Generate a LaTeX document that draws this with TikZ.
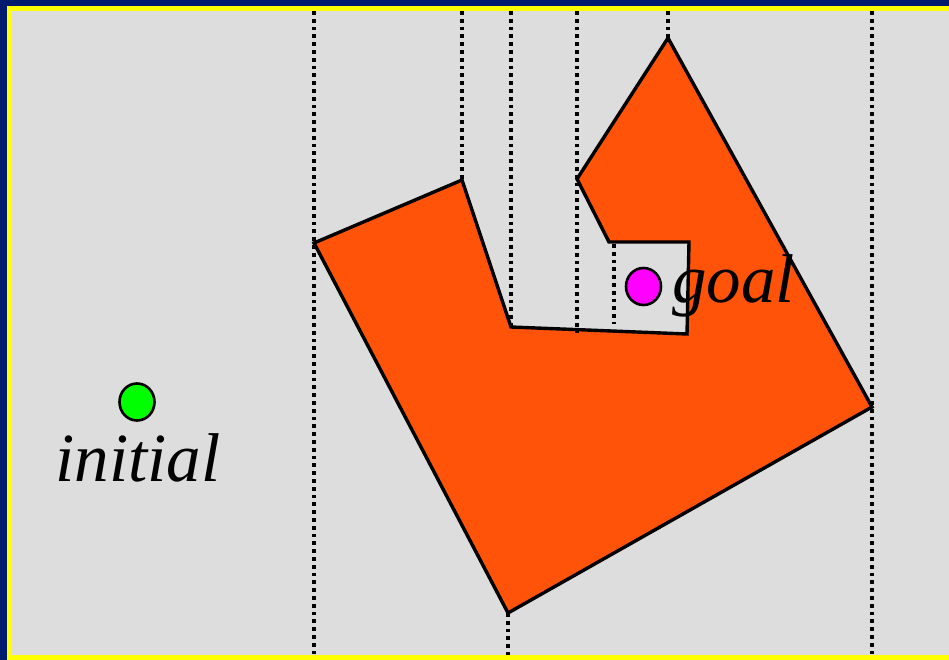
\documentclass[tikz,border=0pt]{standalone}
\usepackage{fontspec}
\setmainfont{Liberation Serif}
\usetikzlibrary{shapes.geometric}
\definecolor{frameblue}{HTML}{001A6E}
\definecolor{frameyellow}{HTML}{FFFF00}
\definecolor{fieldgray}{HTML}{DDDDDD}
\definecolor{obstacle}{HTML}{FF5309}
\definecolor{startgreen}{HTML}{00FF00}
\definecolor{goalpink}{HTML}{FF00FF}

\begin{document}
\begin{tikzpicture}[x=1pt,y=-1pt,every node/.style={font=\fontsize{69}{69}\selectfont\itshape},
  cut/.style={line width=3.6pt,dash pattern=on 3.8pt off 4pt},
  dot/.style={ellipse,draw,line width=2.6pt,minimum width=35pt,minimum height=37pt,inner sep=0pt}]
\useasboundingbox (0,0) rectangle (949,660);
\fill[frameblue] (0,0) rectangle (949,660); \fill[frameyellow] (7,6) rectangle (949,660); \fill[fieldgray] (12,11) rectangle (949,655);
\coordinate (a) at (314,243); \coordinate (b) at (462,180); \coordinate (c) at (511,327); \coordinate (d) at (687,334); \coordinate (e) at (689,242);
\coordinate (f) at (609,242); \coordinate (g) at (577,179); \coordinate (h) at (668,38); \coordinate (i) at (872,407); \coordinate (j) at (508,613);
\draw[line width=3.4pt,line join=miter,fill=obstacle] (a)--(b)--(c)--(d)--(e)--(f)--(g)--(h)--(i)--(j)--cycle;
\foreach \x/\n in {314/1,462/2,511/3,577/4,668/5,872/6} \coordinate (top\n) at (\x,11);
\coordinate (bot1) at (314,655); \coordinate (bot6) at (872,655); \coordinate (botj) at (508,655);
\coordinate (cutbot) at (577,333); \coordinate (pockettop) at (614,244); \coordinate (pocketbot) at (614,324);
\draw[cut] (top1)--(a)--(bot1); \draw[cut] (top2)--(b); \draw[cut] (top3)--(c); \draw[cut] (top4)--(g)--(cutbot);
\draw[cut] (top5)--(h); \draw[cut] (top6)--(i)--(bot6); \draw[cut] (j)--(botj); \draw[cut] (pockettop)--(pocketbot);
\node[dot,fill=startgreen] (init) at (137,402) {}; \node[dot,fill=goalpink] (goal) at (643.5,286.5) {};
\node[anchor=base,inner sep=0pt] (initlabel) at (138,481) {initial}; \node[anchor=base west,inner sep=0pt] (goallabel) at (672,302) {goal};
\end{tikzpicture}
\end{document}
